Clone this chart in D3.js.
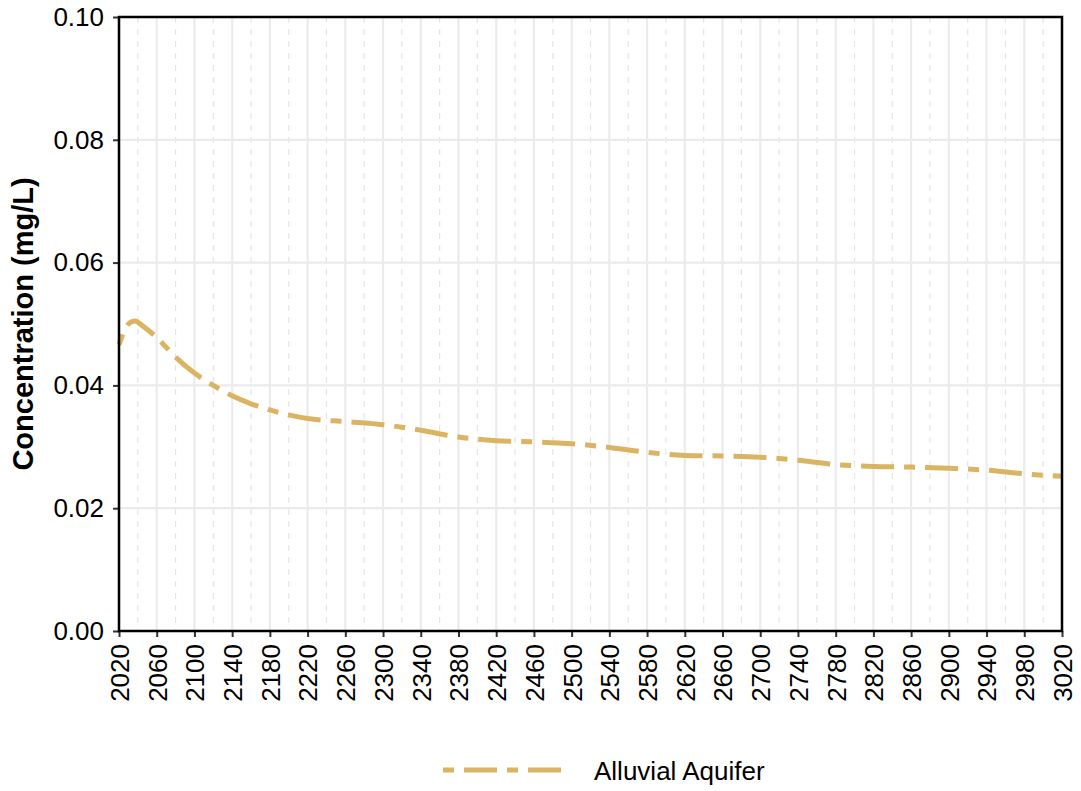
<!DOCTYPE html>
<html>
<head>
<meta charset="utf-8">
<script src="https://cdn.jsdelivr.net/npm/d3@7"></script>
<style>
  body { margin: 0; background: #fff; }
  svg { font-family: "Liberation Sans", Arial, sans-serif; }
</style>
</head>
<body>
<svg id="chart" width="1081" height="791"></svg>
<script>
const years = [2020, 2030, 2037, 2045, 2060, 2080, 2100, 2120, 2140, 2160, 2180, 2200, 2220, 2260, 2300, 2340, 2380, 2420, 2460, 2500, 2540, 2580, 2620, 2660, 2700, 2740, 2780, 2820, 2860, 2900, 2940, 2980, 3020];
const concentration = [0.0466, 0.0500, 0.0505, 0.0497, 0.0478, 0.0446, 0.0420, 0.0400, 0.0383, 0.0370, 0.0360, 0.0352, 0.0346, 0.0341, 0.0336, 0.0327, 0.0316, 0.0310, 0.0308, 0.0305, 0.0299, 0.0291, 0.0286, 0.0285, 0.0283, 0.0278, 0.0271, 0.0268, 0.0267, 0.0265, 0.0262, 0.0256, 0.0252];
const xTicks = d3.range(2020, 3021, 40);
const xMinor = d3.range(2040, 3020, 40);
const yTicks = [0, 0.02, 0.04, 0.06, 0.08, 0.10];
const seriesName = "Alluvial Aquifer";
const yTitle = "Concentration (mg/L)";

const svg = d3.select("#chart");
const L = 119, R = 1062, T = 17, B = 631;
const x = d3.scaleLinear().domain([2020, 3020]).range([L, R]);
const y = d3.scaleLinear().domain([0, 0.10]).range([B, T]);
const color = "#DBB463";

// grid
const g = svg.append("g");
g.selectAll(".minor").data(xMinor).enter().append("line")
  .attr("x1", d => x(d)).attr("x2", d => x(d)).attr("y1", T).attr("y2", B)
  .attr("stroke", "#E5E5E5").attr("stroke-width", 1.2).attr("stroke-dasharray", "6,6");
g.selectAll(".majx").data(xTicks).enter().append("line")
  .attr("x1", d => x(d)).attr("x2", d => x(d)).attr("y1", T).attr("y2", B)
  .attr("stroke", "#EBEBEB").attr("stroke-width", 2.2);
g.selectAll(".majy").data(yTicks).enter().append("line")
  .attr("x1", L).attr("x2", R).attr("y1", d => y(d)).attr("y2", d => y(d))
  .attr("stroke", "#EBEBEB").attr("stroke-width", 2.2);

// line
const data = years.map((yr, i) => ({yr, v: concentration[i]}));
svg.append("path").datum(data)
  .attr("fill", "none").attr("stroke", color).attr("stroke-width", 5)
  .attr("stroke-dasharray", "11,10,33,10")
  .attr("d", d3.line().x(d => x(d.yr)).y(d => y(d.v)).curve(d3.curveMonotoneX));

// axes
const yAxis = svg.append("g").attr("transform", `translate(${L},0)`)
  .call(d3.axisLeft(y).tickValues(yTicks).tickFormat(d3.format(".2f")).tickSize(6).tickPadding(9));
const xAxis = svg.append("g").attr("transform", `translate(0,${B})`)
  .call(d3.axisBottom(x).tickValues(xTicks).tickFormat(d3.format("d")).tickSize(6).tickPadding(3));
[yAxis, xAxis].forEach(a => {
  a.select(".domain").remove();
  a.selectAll(".tick line").attr("stroke", "#333").attr("stroke-width", 2);
  a.selectAll("text").attr("fill", "#000").style("font-size", "26px")
    .style("font-family", "'Liberation Sans', Arial, sans-serif");
});
xAxis.selectAll("text")
  .attr("transform", "rotate(-90)")
  .attr("text-anchor", "end").attr("x", -13).attr("y", 0).attr("dy", "0.36em");

// panel border
svg.append("rect").attr("x", L).attr("y", T).attr("width", R - L).attr("height", B - T)
  .attr("fill", "none").attr("stroke", "#000").attr("stroke-width", 2.5);

// y title
svg.append("text").attr("transform", `translate(33,${(T + B) / 2}) rotate(-90)`)
  .attr("text-anchor", "middle").style("font-size", "29px").style("font-weight", "bold")
  .text(yTitle);

// legend
svg.append("line").attr("x1", 443).attr("x2", 566).attr("y1", 770).attr("y2", 770)
  .attr("stroke", color).attr("stroke-width", 5).attr("stroke-dasharray", "11,10,33,10");
svg.append("text").attr("x", 594).attr("y", 780).style("font-size", "26px").text(seriesName);
</script>
</body>
</html>
